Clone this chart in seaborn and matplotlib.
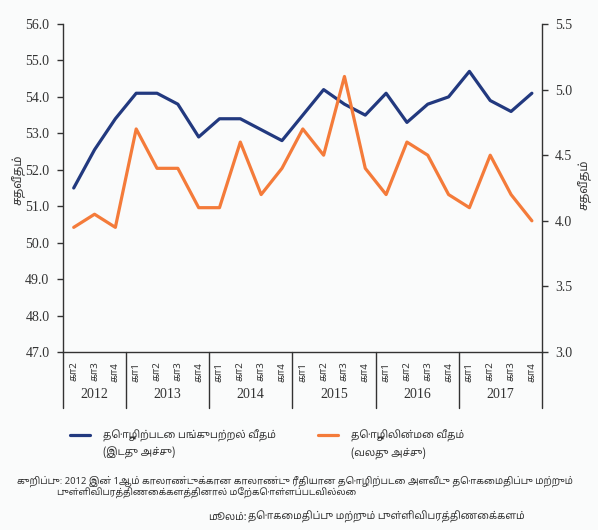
import numpy as np
import pandas as pd
import matplotlib
matplotlib.use("Agg")
import matplotlib.pyplot as plt
import matplotlib.transforms as mtransforms
import seaborn as sns

# data
years = ["2012", "2013", "2014", "2015", "2016", "2017"]
quarters_per_year = [3, 4, 4, 4, 4, 4]
quarters = ["கா2", "கா3", "கா4"] + ["கா1", "கா2", "கா3", "கா4"] * 5
participation = [51.5, 52.55, 53.4, 54.1, 54.1, 53.8, 52.9, 53.4, 53.4, 53.1, 52.8,
                 53.5, 54.2, 53.8, 53.5, 54.1, 53.3, 53.8, 54.0, 54.7, 53.9, 53.6, 54.1]
unemployment = [3.95, 4.05, 3.95, 4.7, 4.4, 4.4, 4.1, 4.1, 4.6, 4.2, 4.4,
                4.7, 4.5, 5.1, 4.4, 4.2, 4.6, 4.5, 4.2, 4.1, 4.5, 4.2, 4.0]

label_lfpr = "தொழிற்படை பங்குபற்றல் வீதம்"
label_unemp = "தொழிலின்மை வீதம்"
axis_left = "(இடது அச்சு)"
axis_right = "(வலது அச்சு)"
ylabel = "சதவீதம்"
note_1 = "குறிப்பு: 2012 இன் 1ஆம் காலாண்டுக்கான காலாண்டு ரீதியான தொழிற்படை அளவீடு தொகைமதிப்பு மற்றும்"
note_2 = "புள்ளிவிபரத்திணைக்களத்தினால் மேற்கொள்ளப்படவில்லை"
source_head = "மூலம்:"
source_text = "தொகைமதிப்பு மற்றும் புள்ளிவிபரத்திணைக்களம்"

df = pd.DataFrame({"pos": np.arange(len(quarters)), "quarter": quarters,
                   "participation": participation, "unemployment": unemployment})

sns.set_style("white")
tamil = ["Noto Sans Tamil", "Lohit Tamil", "Latha", "FreeSans", "DejaVu Sans"]
serif = ["Liberation Serif", "DejaVu Serif"]
plt.rcParams["font.family"] = tamil

bg = "#fafbfb"
dark = "#333333"
blue = "#22397f"
orange = "#f47b3a"

W, H = 598, 530
fig = plt.figure(figsize=(W / 100, H / 100), dpi=100, facecolor=bg)
x0, x1, y0, y1 = 63.3, 542.3, 24, 352
ax = fig.add_axes([x0 / W, 1 - y1 / H, (x1 - x0) / W, (y1 - y0) / H])
ax.set_facecolor(bg)

sns.lineplot(data=df, x="pos", y="participation", ax=ax, color=blue, lw=2.3, legend=False)
ax2 = ax.twinx()
sns.lineplot(data=df, x="pos", y="unemployment", ax=ax2, color=orange, lw=2.3, legend=False)

n = len(quarters)
ax.set_xlim(-0.5, n - 0.5)
ax.set_ylim(47, 56)
ax.set_yticks(np.arange(47, 56.1, 1))
ax.set_yticklabels([f"{v:.1f}" for v in np.arange(47, 56.1, 1)], family=serif, fontsize=10, color=dark)
ax2.set_ylim(3.0, 5.5)
ax2.set_yticks(np.arange(3.0, 5.51, 0.5))
ax2.set_yticklabels([f"{v:.1f}" for v in np.arange(3.0, 5.51, 0.5)], family=serif, fontsize=10, color=dark)

for a in (ax, ax2):
    a.set_xlabel("")
    a.set_ylabel("")
    a.spines["top"].set_visible(False)
    for s in ("left", "right", "bottom"):
        a.spines[s].set_color(dark)
        a.spines[s].set_linewidth(1.0)
ax.spines["right"].set_visible(False)
ax2.spines["left"].set_visible(False)
ax2.spines["bottom"].set_visible(False)

ax.tick_params(axis="y", direction="out", length=4, width=1, color=dark, pad=6)
ax2.tick_params(axis="y", direction="out", length=4, width=1, color=dark, pad=5)

# quarter labels at centres, small ticks at boundaries
ax.set_xticks(df["pos"])
ax.set_xticklabels(quarters, rotation=90, fontsize=7, color=dark)
ax.tick_params(axis="x", which="major", length=0, pad=7)
ax.set_xticks(np.arange(-0.5, n, 1), minor=True)
ax.tick_params(axis="x", which="minor", direction="out", length=4, width=1, color=dark)

# year separators and year labels
trans = mtransforms.blended_transform_factory(ax.transData, ax.transAxes)
sep_bottom = -(408 - y1) / (y1 - y0)
edges = np.concatenate([[0], np.cumsum(quarters_per_year)]) - 0.5
for e in edges:
    ax.plot([e, e], [0, sep_bottom], transform=trans, color=dark, lw=1.0, clip_on=False)
for i, yr in enumerate(years):
    ax.text((edges[i] + edges[i + 1]) / 2, -(395 - y1) / (y1 - y0), yr, transform=trans,
            ha="center", va="center", fontsize=10, color=dark, family=serif)

# axis titles
fig.text(18 / W, 1 - 180 / H, ylabel, rotation=90, ha="center", va="center", fontsize=8.5, color=dark)
fig.text(585 / W, 1 - 185 / H, ylabel, rotation=90, ha="center", va="center", fontsize=8.5, color=dark)

# legend
lfs = 7.3
lpx = lfs * 100 / 72
lines = ax.get_lines()[:1] + ax2.get_lines()[:1]
for line, lab, lx in ((lines[0], label_lfpr, 70), (lines[1], label_unemp, 318)):
    fig.legend([line], [lab], loc="center left", bbox_to_anchor=(lx / W, 1 - 436 / H),
               frameon=False, borderpad=0, borderaxespad=0, handlelength=20 / lpx,
               handletextpad=13 / lpx, fontsize=lfs, labelcolor=dark)
fig.text(103 / W, 1 - 453 / H, axis_left, ha="left", va="center", fontsize=lfs, color=dark)
fig.text(351 / W, 1 - 453 / H, axis_right, ha="left", va="center", fontsize=lfs, color=dark)

# note and source
fig.text(17 / W, 1 - 481 / H, note_1, ha="left", va="center", fontsize=6.8, color=dark)
fig.text(57 / W, 1 - 493 / H, note_2, ha="left", va="center", fontsize=6.6, color=dark)
fig.text(208 / W, 1 - 517 / H, source_head, ha="left", va="center", fontsize=7.2, color=dark, style="italic")
fig.text(248 / W, 1 - 517 / H, source_text, ha="left", va="center", fontsize=7.2, color=dark)

fig.savefig("out.png", dpi=100, facecolor=bg)
